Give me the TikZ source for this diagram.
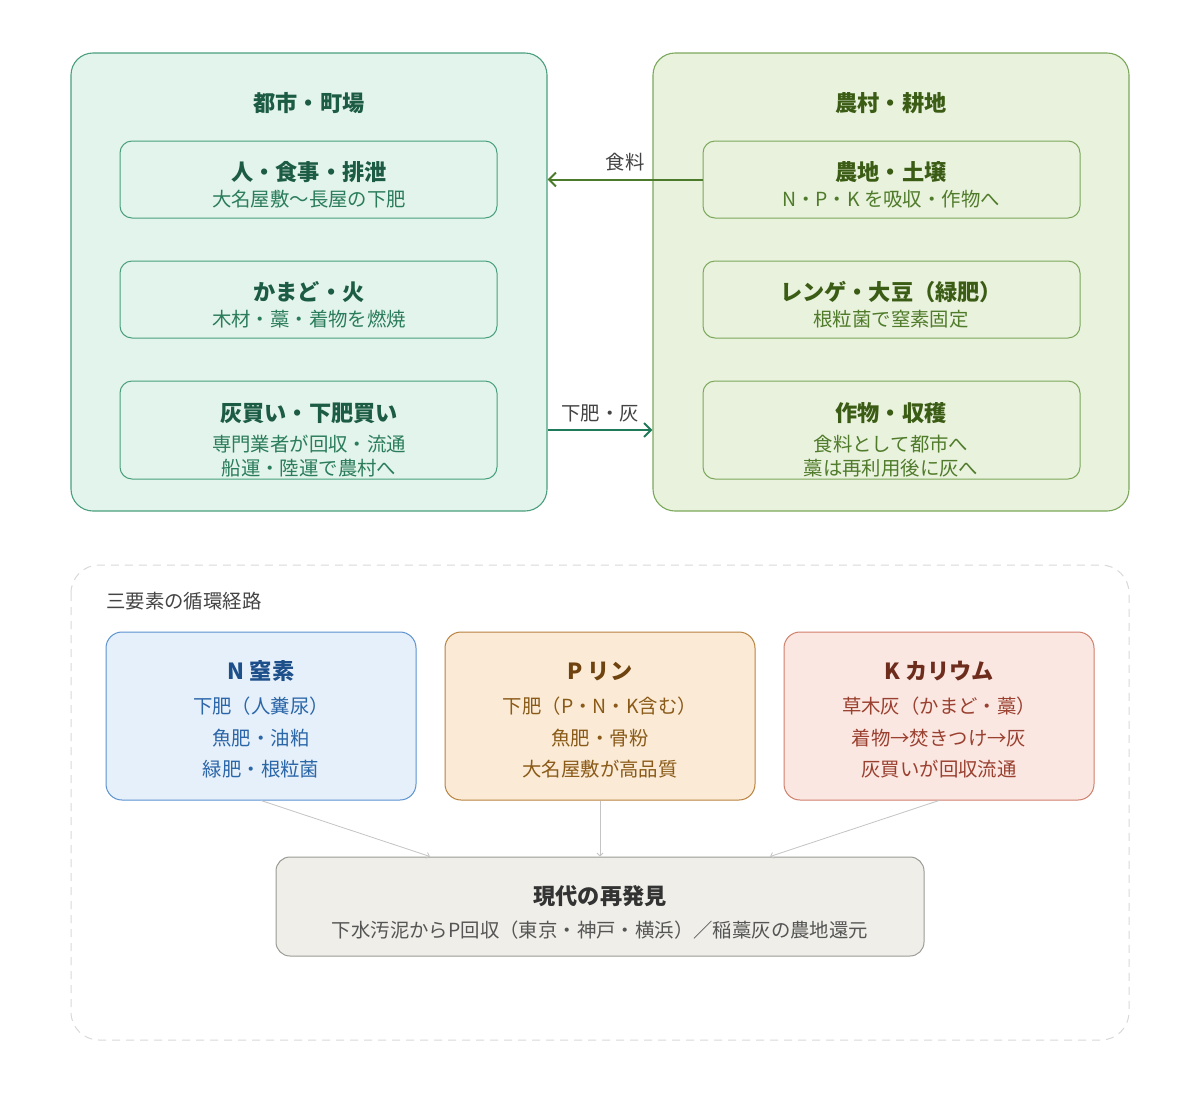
\documentclass[tikz,border=0pt]{standalone}
\usepackage{fontspec}
\setmainfont{Noto Sans CJK JP}
\usetikzlibrary{arrows.meta}

\definecolor{cityfill}{HTML}{E2F4EB}
\definecolor{citystroke}{HTML}{4B9F7F}
\definecolor{citytitle}{HTML}{1D5C44}
\definecolor{citysub}{HTML}{2B7C5C}
\definecolor{cityarrow}{HTML}{1F7A5A}
\definecolor{farmfill}{HTML}{E9F2DC}
\definecolor{farmstroke}{HTML}{7BA85B}
\definecolor{farmtitle}{HTML}{3B5C15}
\definecolor{farmsub}{HTML}{4F7B2B}
\definecolor{farmarrow}{HTML}{4A7A2A}
\definecolor{labelgray}{HTML}{444444}
\definecolor{dashgray}{HTML}{D9D9D9}
\definecolor{nfill}{HTML}{E6F0FA}
\definecolor{nstroke}{HTML}{5B92D0}
\definecolor{ntitle}{HTML}{1D4F8A}
\definecolor{nsub}{HTML}{2B66A8}
\definecolor{pfill}{HTML}{FBEBD6}
\definecolor{pstroke}{HTML}{B8823E}
\definecolor{ptitle}{HTML}{6E4310}
\definecolor{psub}{HTML}{8A5A18}
\definecolor{kfill}{HTML}{FBE7E1}
\definecolor{kstroke}{HTML}{CF7F6C}
\definecolor{ktitle}{HTML}{6E2C1C}
\definecolor{ksub}{HTML}{9A4030}
\definecolor{modfill}{HTML}{EFEEE8}
\definecolor{modstroke}{HTML}{9A9A96}
\definecolor{modtitle}{HTML}{333333}
\definecolor{modsub}{HTML}{555555}
\definecolor{connect}{HTML}{C4C4C4}

\tikzset{
  panel/.style={draw, line width=1.1pt, rounded corners=22pt, inner sep=0pt, minimum width=476pt, minimum height=458pt},
  ibox/.style={draw, line width=1pt, rounded corners=12pt, inner sep=0pt, minimum width=377pt},
  elbox/.style={draw, line width=1pt, rounded corners=16pt, inner sep=0pt, minimum width=310pt, minimum height=168pt},
  ttl/.style={inner sep=0pt, font=\fontsize{22.2}{26}\selectfont\bfseries},
  sub/.style={inner sep=0pt, font=\fontsize{19.4}{23}\selectfont},
  lbl/.style={inner sep=0pt, font=\fontsize{19.4}{23}\selectfont, text=labelgray},
  flow/.style={line width=2pt, -{Straight Barb[length=7pt,width=14pt,line width=2pt]}},
  thin/.style={line width=0.8pt, draw=connect, -{Straight Barb[length=3pt,width=6pt,line width=0.8pt]}}
}

\begin{document}
\begin{tikzpicture}[x=1pt,y=-1pt]
\useasboundingbox[fill=white] (0,0) rectangle (1200,1093);

% ---------- city panel ----------
\node[panel, fill=cityfill, draw=citystroke] (city) at (309,282) {};
\node[ttl, text=citytitle] (cityt) at (309,103) {都市・町場};
\node[ibox, draw=citystroke, minimum height=77pt] (c1) at (308.5,179.5) {};
\node[ttl, text=citytitle] (c1t) at (309,172) {人・食事・排泄};
\node[sub, text=citysub] (c1s) at (309,199) {大名屋敷〜長屋の下肥};
\node[ibox, draw=citystroke, minimum height=77pt] (c2) at (308.5,299.5) {};
\node[ttl, text=citytitle] (c2t) at (309,292) {かまど・火};
\node[sub, text=citysub] (c2s) at (309,319) {木材・藁・着物を燃焼};
\node[ibox, draw=citystroke, minimum height=98pt] (c3) at (308.5,430) {};
\node[ttl, text=citytitle] (c3t) at (309,413) {灰買い・下肥買い};
\node[sub, text=citysub] (c3s) at (309,444) {専門業者が回収・流通};
\node[sub, text=citysub] (c3u) at (309,468) {船運・陸運で農村へ};

% ---------- farm panel ----------
\node[panel, fill=farmfill, draw=farmstroke] (farm) at (891,282) {};
\node[ttl, text=farmtitle] (farmt) at (891,103) {農村・耕地};
\node[ibox, draw=farmstroke, minimum height=77pt] (f1) at (891.5,179.5) {};
\node[ttl, text=farmtitle] (f1t) at (891,172) {農地・土壌};
\node[sub, text=farmsub] (f1s) at (891,199) {N・P・K を吸収・作物へ};
\node[ibox, draw=farmstroke, minimum height=77pt] (f2) at (891.5,299.5) {};
\node[ttl, text=farmtitle] (f2t) at (891,292) {レンゲ・大豆（緑肥）};
\node[sub, text=farmsub] (f2s) at (891,319) {根粒菌で窒素固定};
\node[ibox, draw=farmstroke, minimum height=98pt] (f3) at (891.5,430) {};
\node[ttl, text=farmtitle] (f3t) at (891,413) {作物・収穫};
\node[sub, text=farmsub] (f3s) at (891,444) {食料として都市へ};
\node[sub, text=farmsub] (f3u) at (891,468) {藁は再利用後に灰へ};

% ---------- flows between panels ----------
\draw[flow, draw=farmarrow] (f1.west) -- (city.east |- f1.west);
\node[lbl] (foodl) at (625,162) {食料};
\draw[flow, draw=cityarrow] (city.east |- c3) -- (farm.west |- c3);
\node[lbl] (nightl) at (600,413) {下肥・灰};

% ---------- bottom section ----------
\draw[dashgray, line width=1pt, dash pattern=on 8pt off 6pt, rounded corners=28pt] (71,565) rectangle (1129,1040);
\node[lbl, anchor=west] (secl) at (106,601) {三要素の循環経路};

\node[elbox, fill=nfill, draw=nstroke] (nb) at (261,716) {};
\node[ttl, text=ntitle] (nbt) at (261,671) {N 窒素};
\node[sub, text=nsub] (nb1) at (261,706) {下肥（人糞尿）};
\node[sub, text=nsub] (nb2) at (261,738) {魚肥・油粕};
\node[sub, text=nsub] (nb3) at (261,769) {緑肥・根粒菌};

\node[elbox, fill=pfill, draw=pstroke] (pb) at (600,716) {};
\node[ttl, text=ptitle] (pbt) at (600,671) {P リン};
\node[sub, text=psub] (pb1) at (600,706) {下肥（P・N・K含む）};
\node[sub, text=psub] (pb2) at (600,738) {魚肥・骨粉};
\node[sub, text=psub] (pb3) at (600,769) {大名屋敷が高品質};

\node[elbox, fill=kfill, draw=kstroke] (kb) at (939,716) {};
\node[ttl, text=ktitle] (kbt) at (939,671) {K カリウム};
\node[sub, text=ksub] (kb1) at (939,706) {草木灰（かまど・藁）};
\node[sub, text=ksub] (kb2) at (939,738) {着物→焚きつけ→灰};
\node[sub, text=ksub] (kb3) at (939,769) {灰買いが回収流通};

\node[draw=modstroke, fill=modfill, line width=1pt, rounded corners=14pt, inner sep=0pt, minimum width=648pt, minimum height=99pt] (mod) at (600,906.5) {};
\node[ttl, text=modtitle] (modt) at (600,896) {現代の再発見};
\node[sub, text=modsub] (mods) at (600,930) {下水汚泥からP回収（東京・神戸・横浜）／稲藁灰の農地還元};

\draw[thin] (nb.south) -- ([xshift=-170pt]mod.north);
\draw[thin] (pb.south) -- (mod.north);
\draw[thin] (kb.south) -- ([xshift=170pt]mod.north);
\end{tikzpicture}
\end{document}
